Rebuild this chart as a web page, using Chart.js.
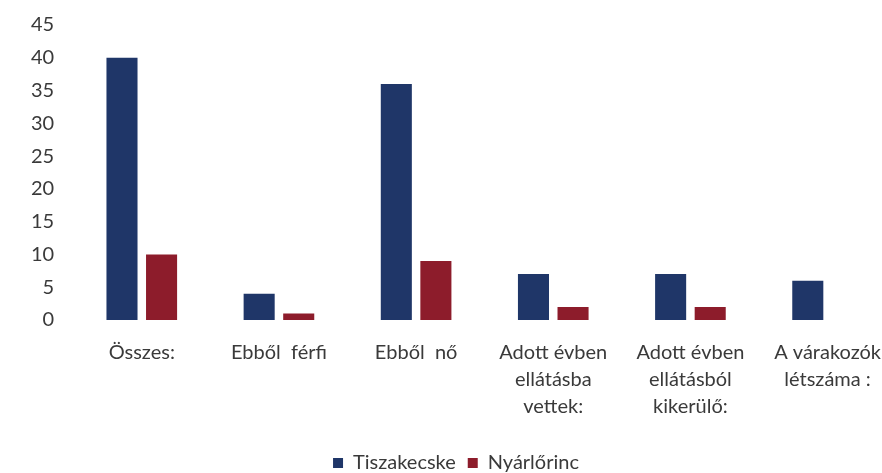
<!DOCTYPE html>
<html>
<head>
<meta charset="utf-8">
<script src="https://cdn.jsdelivr.net/npm/chart.js@4/dist/chart.umd.min.js"></script>
<style>
    html, body { margin: 0; padding: 0; background: #fff; overflow: hidden; }
    #wrap { width: 900px; height: 473px; }
</style>
</head>
<body>
<div id="wrap"><canvas id="barChart" width="900" height="473"></canvas></div>
<script>
// kategóriák és értékek
const categories = [
    'Összes:',
    'Ebből  férfi',
    'Ebből  nő',
    ['Adott évben', 'ellátásba', 'vettek:'],
    ['Adott évben', 'ellátásból', 'kikerülő:'],
    ['A várakozók', 'létszáma :']
];
const tiszakecske = [40, 4, 36, 7, 7, 6];
const nyarlorinc = [10, 1, 9, 2, 2, 0];
const seriesNames = ['Tiszakecske', 'Nyárlőrinc'];
const yTicks = [0, 5, 10, 15, 20, 25, 30, 35, 40, 45];

const textColor = '#3a3a3a';
const fontFamily = 'Lato, "Open Sans", sans-serif';

const ctx = document.getElementById('barChart').getContext('2d');
const barChart = new Chart(ctx, {
    type: 'bar',
    data: {
        labels: categories,
        datasets: [{
            label: seriesNames[0],
            data: tiszakecske,
            backgroundColor: '#1f3668',
            categoryPercentage: 0.577,
            barPercentage: 0.785
        }, {
            label: seriesNames[1],
            data: nyarlorinc,
            backgroundColor: '#8d1c2b',
            categoryPercentage: 0.577,
            barPercentage: 0.785
        }]
    },
    options: {
        responsive: false,
        animation: false,
        layout: {
            padding: { left: 12, right: 0, top: 25, bottom: -10 }
        },
        scales: {
            x: {
                grid: { display: false, drawTicks: false },
                border: { display: false },
                afterFit: (axis) => {
                    axis.height += 2;
                },
                ticks: {
                    color: textColor,
                    maxRotation: 0,
                    autoSkip: false,
                    padding: 19,
                    font: { family: fontFamily, size: 20, lineHeight: 1.35 }
                }
            },
            y: {
                min: 0,
                max: 45,
                afterBuildTicks: (axis) => {
                    axis.ticks = yTicks.map(v => ({ value: v }));
                },
                afterFit: (axis) => {
                    axis.paddingTop = 0;
                    axis.paddingBottom = 0;
                },
                grid: { display: false, drawTicks: false },
                border: { display: false },
                ticks: {
                    color: textColor,
                    padding: 19,
                    font: { family: fontFamily, size: 20 }
                }
            }
        },
        plugins: {
            legend: {
                position: 'bottom',
                labels: {
                    color: textColor,
                    boxWidth: 10,
                    boxHeight: 10,
                    padding: 12,
                    font: { family: fontFamily, size: 20 }
                }
            },
            tooltip: { enabled: false }
        }
    }
});
</script>
</body>
</html>
